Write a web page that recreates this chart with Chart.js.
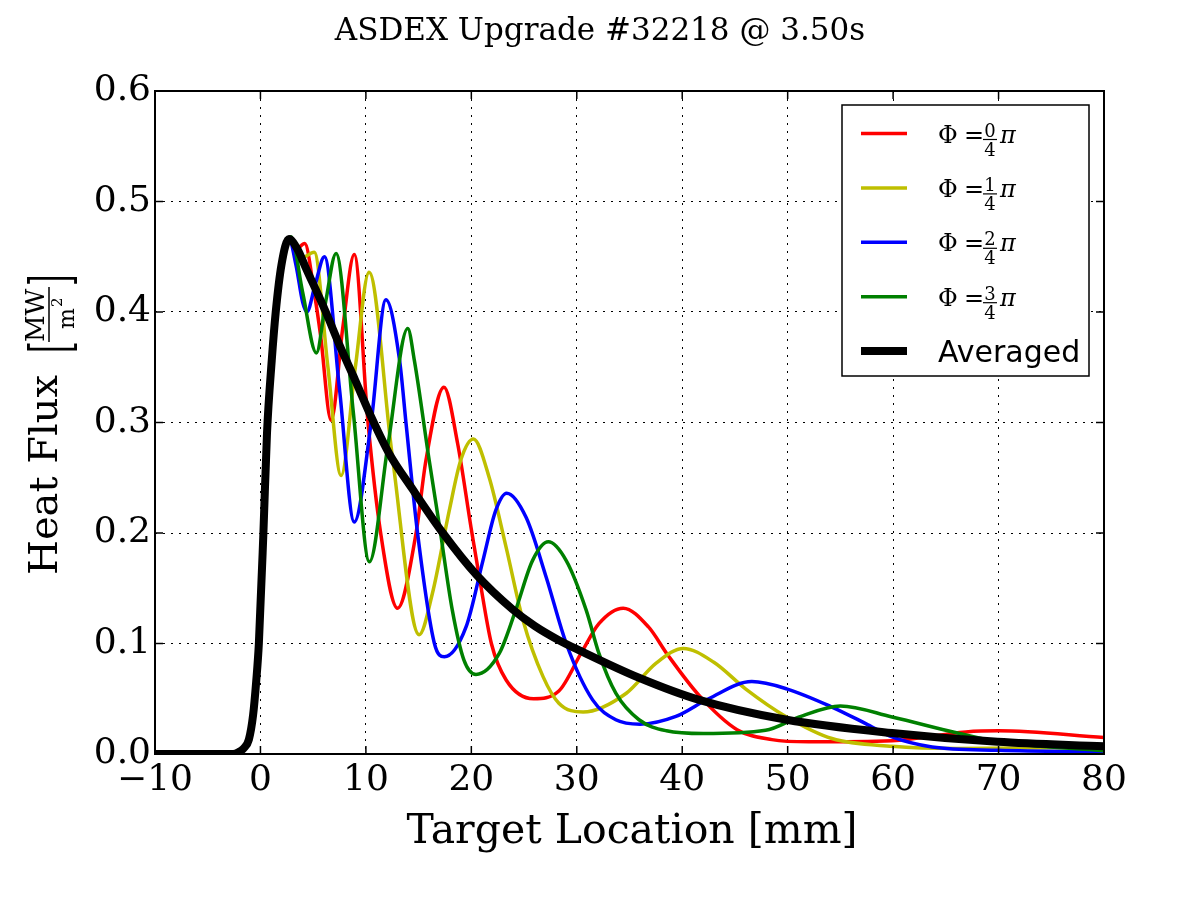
<!DOCTYPE html>
<html>
<head>
<meta charset="utf-8">
<title>ASDEX Upgrade #32218 @ 3.50s</title>
<script src="https://cdn.jsdelivr.net/npm/chart.js@4.4.1/dist/chart.umd.min.js"></script>
<style>
  html, body { margin: 0; padding: 0; background: #fff; }
  #wrap { width: 1200px; height: 900px; }
</style>
</head>
<body>
<div id="wrap"><canvas id="fluxChart"></canvas></div>
<script>
// values: x = target location [mm], y = heat flux [MW/m^2]
const xTicks = [-10, 0, 10, 20, 30, 40, 50, 60, 70, 80];
const yTicks = [0, 0.1, 0.2, 0.3, 0.4, 0.5, 0.6];

// rising flank, common to every curve up to the first peak
const riseX = [-10, -2.6, -2.1, -1.6, -1.1, -0.7, -0.4, -0.15, 0.28, 0.62, 1.07, 1.45, 2.0, 2.7];
const riseY = [0, 0, 0.0015, 0.005, 0.013, 0.035, 0.066, 0.10, 0.20, 0.29, 0.356, 0.40, 0.443, 0.466];

// averaged profile after the peak
const avgX = [3.5, 4.3, 6.2, 7.5, 9.0, 10.65, 12.2, 14.4, 17.3, 20.5, 23.9, 26.0, 28.3, 30.2, 35.9, 41.6, 49.9, 59.9, 69.9, 80];
const avgY = [0.457, 0.440, 0.400, 0.370, 0.338, 0.302, 0.272, 0.240, 0.200, 0.162, 0.131, 0.116, 0.103, 0.094, 0.069, 0.049, 0.031, 0.019, 0.011, 0.007];

// Phi = 0/4 pi
const phi0X = [3.4, 4.2, 5.1, 5.7, 6.7, 7.8, 8.9, 10.2, 11.4, 13.0, 14.76, 15.7, 17.4, 18.7, 19.97, 20.76, 21.9, 23.3, 25.9, 28.3, 30.4, 32.1, 34.4, 36.8, 38.6, 41.6, 45.2, 48.5, 52.0, 59.9, 66.9, 70.0, 80];
const phi0Y = [0.457, 0.462, 0.418, 0.379, 0.302, 0.385, 0.452, 0.300, 0.200, 0.132, 0.200, 0.266, 0.332, 0.281, 0.205, 0.160, 0.100, 0.067, 0.050, 0.057, 0.091, 0.118, 0.132, 0.115, 0.090, 0.053, 0.022, 0.013, 0.011, 0.012, 0.020, 0.021, 0.015];

// Phi = 1/4 pi
const phi1X = [3.9, 5.1, 6.4, 7.65, 9.0, 10.3, 12.5, 15.05, 16.3, 17.9, 19.0, 20.2, 21.7, 23.3, 24.9, 26.8, 28.3, 30.6, 34.7, 37.5, 40.1, 43.0, 46.0, 49.9, 54.2, 59.9, 66, 80];
const phi1Y = [0.449, 0.454, 0.350, 0.252, 0.350, 0.436, 0.270, 0.108, 0.145, 0.220, 0.266, 0.285, 0.250, 0.187, 0.121, 0.070, 0.046, 0.038, 0.055, 0.082, 0.0955, 0.083, 0.059, 0.0335, 0.014, 0.007, 0.005, 0.006];

// Phi = 2/4 pi
const phi2X = [3.38, 4.0, 4.4, 5.2, 6.07, 7.5, 8.9, 10.5, 11.9, 13.2, 13.8, 14.9, 16.5, 17.44, 19.5, 21.1, 22.3, 23.35, 25.2, 27.1, 29.0, 31.5, 33.7, 36.0, 39.4, 42.5, 46.6, 49.9, 54.2, 57.4, 59.9, 63.7, 70, 80];
const phi2Y = [0.442, 0.409, 0.400, 0.425, 0.450, 0.330, 0.210, 0.300, 0.411, 0.356, 0.300, 0.200, 0.100, 0.088, 0.115, 0.175, 0.220, 0.236, 0.214, 0.160, 0.100, 0.049, 0.031, 0.027, 0.034, 0.050, 0.0655, 0.059, 0.0425, 0.0275, 0.0154, 0.0063, 0.0033, 0.002];

// Phi = 3/4 pi
const phi3X = [2.9, 4.0, 5.3, 6.2, 7.17, 8.8, 10.33, 12.1, 13.97, 14.6, 16.0, 17.0, 18.2, 19.3, 20.44, 22.65, 24.2, 25.8, 27.3, 29.0, 30.9, 32.1, 33.7, 35.9, 38.5, 42.0, 47.9, 51.1, 55.0, 59.9, 66.3, 70, 80];
const phi3Y = [0.468, 0.418, 0.363, 0.410, 0.453, 0.310, 0.174, 0.280, 0.385, 0.356, 0.266, 0.205, 0.130, 0.085, 0.072, 0.091, 0.130, 0.175, 0.192, 0.175, 0.130, 0.091, 0.055, 0.031, 0.021, 0.0185, 0.0214, 0.0335, 0.0435, 0.0335, 0.0185, 0.011, 0.003];

const phaseNums = ['0', '1', '2', '3'];
const phaseColors = ['#ff0000', '#bfbf00', '#0000ff', '#008000'];
const avgLabel = 'Averaged';

const SERIF = '"DejaVu Serif", serif';
const SANS = '"DejaVu Sans", sans-serif';

function toPoints(xs, ys) {
    return xs.map((x, i) => ({ x: x, y: ys[i] }));
}

function line(ctx, x1, y1, x2, y2) {
    ctx.beginPath();
    ctx.moveTo(x1, y1);
    ctx.lineTo(x2, y2);
    ctx.stroke();
}

// Phi = n/4 pi, drawn like the mathtext label
function drawPhiLabel(ctx, x, base, num) {
    ctx.fillStyle = '#000';
    ctx.strokeStyle = '#000';
    ctx.textAlign = 'left';
    ctx.textBaseline = 'alphabetic';
    ctx.font = '24px ' + SERIF;
    ctx.fillText('\u03A6', x, base);
    ctx.fillText('=', x + 26, base);
    ctx.font = '18px ' + SERIF;
    ctx.textAlign = 'center';
    ctx.fillText(num, x + 52, base - 6);
    ctx.fillText('4', x + 52, base + 13);
    ctx.lineWidth = 1.2;
    line(ctx, x + 45, base - 3, x + 59, base - 3);
    ctx.textAlign = 'left';
    ctx.font = 'italic 24px ' + SERIF;
    ctx.fillText('\u03C0', x + 62, base);
}

function drawLegend(ctx) {
    const l = 842, t = 105, r = 1089, b = 376;
    ctx.fillStyle = '#fff';
    ctx.fillRect(l, t, r - l, b - t);
    ctx.strokeStyle = '#000';
    ctx.lineWidth = 1.5;
    ctx.strokeRect(l, t, r - l, b - t);

    phaseNums.forEach((n, i) => {
        const yc = 133.5 + i * 54.4;
        ctx.strokeStyle = phaseColors[i];
        ctx.lineWidth = 3.5;
        line(ctx, 861, yc, 907, yc);
        drawPhiLabel(ctx, 938, yc + 9, n);
    });

    const ya = 133.5 + 4 * 54.4;
    ctx.strokeStyle = '#000';
    ctx.lineWidth = 8;
    line(ctx, 861, ya, 907, ya);
    ctx.fillStyle = '#000';
    ctx.font = '30px ' + SANS;
    ctx.textAlign = 'left';
    ctx.textBaseline = 'alphabetic';
    ctx.fillText(avgLabel, 938, ya + 11);
}

// tall thin bracket: a normal glyph stretched along its height
function drawBracket(ctx, ch, x, y) {
    ctx.save();
    ctx.translate(x, y);
    ctx.scale(1, 1.85);
    ctx.font = '30px ' + SERIF;
    ctx.fillText(ch, 0, 0);
    ctx.restore();
}

// "Heat Flux [MW/m^2]" rotated
function drawYTitle(ctx) {
    ctx.save();
    ctx.translate(57, 423);
    ctx.rotate(-Math.PI / 2);
    ctx.fillStyle = '#000';
    ctx.strokeStyle = '#000';
    ctx.textAlign = 'left';
    ctx.textBaseline = 'alphabetic';
    ctx.font = '40px ' + SERIF;
    ctx.fillText('Heat Flux', -152, 0);
    drawBracket(ctx, '[', 70, 13);
    drawBracket(ctx, ']', 137, 13);
    ctx.font = '26px ' + SERIF;
    ctx.fillText('MW', 81, -13);
    ctx.lineWidth = 1.5;
    line(ctx, 81, -8, 136, -8);
    ctx.font = '22px ' + SERIF;
    ctx.fillText('m', 94, 17);
    ctx.font = '15px ' + SERIF;
    ctx.fillText('2', 116, 5);
    ctx.restore();
}

const framePlugin = {
    id: 'framePlugin',
    afterDraw(chart) {
        const ctx = chart.ctx;
        const a = chart.chartArea;
        const sx = chart.scales.x, sy = chart.scales.y;
        ctx.save();

        // inward ticks on all four sides
        ctx.strokeStyle = '#000';
        ctx.lineWidth = 1.5;
        xTicks.forEach(v => {
            const px = sx.getPixelForValue(v);
            line(ctx, px, a.bottom, px, a.bottom - 8);
            line(ctx, px, a.top, px, a.top + 8);
        });
        yTicks.forEach(v => {
            const py = sy.getPixelForValue(v);
            line(ctx, a.left, py, a.left + 8, py);
            line(ctx, a.right, py, a.right - 8, py);
        });

        // axes frame
        ctx.lineWidth = 2;
        ctx.strokeRect(a.left, a.top, a.right - a.left, a.bottom - a.top);

        // titles
        ctx.fillStyle = '#000';
        ctx.textAlign = 'center';
        ctx.textBaseline = 'alphabetic';
        ctx.font = '31px ' + SERIF;
        ctx.fillText('ASDEX Upgrade #32218 @ 3.50s', 600, 40);
        ctx.font = '41px ' + SERIF;
        ctx.fillText('Target Location [mm]', 632, 843);

        drawYTitle(ctx);
        drawLegend(ctx);
        ctx.restore();
    }
};

function makeDataset(label, xs, ys, color, width, order) {
    return {
        label: label,
        data: toPoints(xs, ys),
        borderColor: color,
        borderWidth: width,
        pointRadius: 0,
        fill: false,
        cubicInterpolationMode: 'monotone',
        clip: 0,
        order: order
    };
}

document.addEventListener('DOMContentLoaded', function() {
    const ctx = document.getElementById('fluxChart').getContext('2d');

    const datasets = [
        makeDataset(avgLabel, riseX.concat(avgX), riseY.concat(avgY), '#000000', 8, 0),
        makeDataset('phi3', riseX.concat(phi3X), riseY.concat(phi3Y), phaseColors[3], 3.5, 1),
        makeDataset('phi2', riseX.concat(phi2X), riseY.concat(phi2Y), phaseColors[2], 3.5, 2),
        makeDataset('phi1', riseX.concat(phi1X), riseY.concat(phi1Y), phaseColors[1], 3.5, 3),
        makeDataset('phi0', riseX.concat(phi0X), riseY.concat(phi0Y), phaseColors[0], 3.5, 4)
    ];

    new Chart(ctx, {
        type: 'line',
        data: { datasets: datasets },
        options: {
            responsive: true,
            maintainAspectRatio: false,
            animation: false,
            layout: { padding: { top: 91, right: 96, bottom: 0, left: 0 } },
            plugins: {
                legend: { display: false },
                tooltip: { enabled: false },
                title: { display: false }
            },
            scales: {
                x: {
                    type: 'linear',
                    min: -10,
                    max: 80,
                    afterFit: s => { s.height = 146; },
                    afterBuildTicks: s => { s.ticks = xTicks.map(v => ({ value: v })); },
                    grid: { color: '#000', lineWidth: 1, drawTicks: false },
                    border: { display: false, dash: [2, 6] },
                    ticks: {
                        padding: 5,
                        color: '#000',
                        font: { family: 'DejaVu Serif', size: 36 },
                        callback: v => (v < 0 ? '\u2212' + Math.abs(v) : String(v))
                    }
                },
                y: {
                    type: 'linear',
                    min: 0,
                    max: 0.6,
                    afterFit: s => { s.width = 155; },
                    afterBuildTicks: s => { s.ticks = yTicks.map(v => ({ value: v })); },
                    grid: { color: '#000', lineWidth: 1, drawTicks: false },
                    border: { display: false, dash: [2, 6] },
                    ticks: {
                        padding: 4,
                        color: '#000',
                        font: { family: 'DejaVu Serif', size: 36 },
                        callback: v => v.toFixed(1)
                    }
                }
            }
        },
        plugins: [framePlugin]
    });
});
</script>
</body>
</html>
